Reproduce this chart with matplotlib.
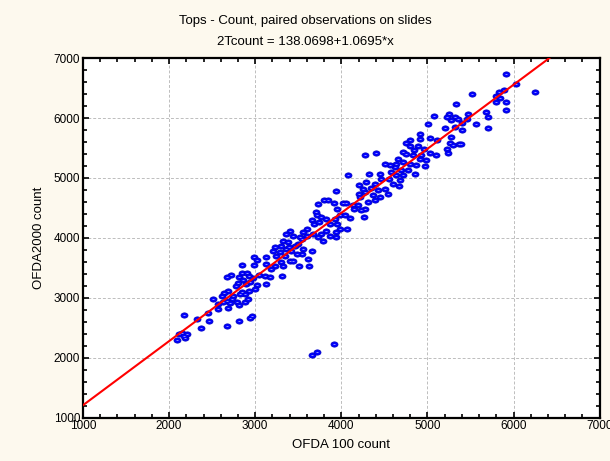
"""Scatter of paired slide counts: OFDA 100 vs OFDA2000, with the fitted line."""

import numpy as np
import matplotlib
matplotlib.use('Agg')
import matplotlib.pyplot as plt
from matplotlib.path import Path
from matplotlib.transforms import Affine2D

TITLE = 'Tops - Count, paired observations on slides'
SUBTITLE = '2Tcount = 138.0698+1.0695*x'
X_LABEL = 'OFDA 100 count'
Y_LABEL = 'OFDA2000 count'

# regression coefficients printed in the chart header
INTERCEPT = 138.0698
SLOPE = 1.0695

# OFDA 100 count (x) and OFDA2000 count (y)
ofda100 = [
    2989, 3016, 2849, 2989, 2714, 2668, 2842, 2900, 2927, 2811,
    2861, 2977, 3039, 3016, 2803, 2776, 2892, 2938, 2996, 2931,
    2842, 2880, 2687, 2641, 2617, 2745, 2726, 2668, 2629, 2791,
    2706, 2880, 2919, 2822, 2505, 2571, 2563, 2687, 2811, 2455,
    2176, 2319, 2463, 2366, 2668, 2807, 2938, 2962, 2145, 2118,
    2203, 2184, 2087, 2172,
    # middle of the cloud
    4079, 4203, 4203, 3944, 3731, 3801, 3847, 3913, 4021, 4060,
    4137, 4195, 3712, 3719, 3770, 3828, 3654, 3681, 3743, 3866,
    3951, 3982, 4040, 4106, 4145, 3924, 3955, 3982, 3944, 4067,
    3944, 3828, 3770, 3731, 3866, 3789, 3673, 3596, 3557, 3603,
    3518, 3549, 3499, 3441, 3402, 3363, 3325, 3383, 3460, 3557,
    3654, 3615, 3626, 3549, 3480, 3421, 3363, 3294, 3228, 3209,
    3247, 3344, 3402, 3294, 3325, 3228, 3131, 3131, 3189, 3112,
    3170, 3131, 3317, 3510, 3441, 3286, 3394,
    # upper part
    5337, 5252, 5317, 5356, 5279, 5228, 5078, 5008, 5201, 5317,
    5279, 5259, 5298, 5228, 5240, 5368, 5116, 5035, 5097, 4919,
    4919, 4795, 4749, 4795, 4892, 4958, 4842, 4718, 4757, 4834,
    4931, 5027, 4989, 4969, 4911, 4660, 4640, 4718, 4795, 4873,
    4853, 4776, 4699, 4621, 4563, 4505, 4582, 4640, 4718, 4679,
    4602, 4671, 4555, 4447, 4466, 4323, 4292, 4273, 4408, 4389,
    4350, 4428, 4505, 4544, 4447, 4370, 4273, 4254, 4312, 4273,
    4234, 4261, 4389, 4223,
    # top end
    5917, 6033, 6245, 5889, 5831, 5793, 5839, 5917, 5800, 5917,
    5522, 5684, 5704, 5472, 5460, 5561, 5704, 5406, 5406, 5387,
    # low outliers
    3660, 3715, 3912,
]
ofda2000 = [
    3676, 3637, 3553, 3553, 3386, 3347, 3408, 3414, 3369, 3347,
    3302, 3330, 3380, 3213, 3246, 3201, 3229, 3257, 3145, 3117,
    3101, 3062, 3117, 3078, 3034, 3034, 2978, 2950, 2922, 2922,
    2905, 2922, 2978, 3062, 2978, 2894, 2810, 2838, 2877, 2743,
    2710, 2643, 2615, 2503, 2531, 2609, 2671, 2699, 2419, 2391,
    2391, 2335, 2296, 2363,
    5055, 4877, 4737, 4776, 4569, 4625, 4625, 4586, 4586, 4586,
    4541, 4553, 4430, 4374, 4346, 4318, 4290, 4234, 4262, 4234,
    4486, 4374, 4374, 4329, 4486, 4318, 4234, 4150, 4095, 4150,
    4011, 4123, 4067, 4011, 4039, 3955, 4067, 4150, 4095, 4039,
    4011, 3983, 3899, 4039, 4123, 4067, 3955, 3927, 3871, 3815,
    3787, 3648, 3536, 3731, 3731, 3787, 3815, 3871, 3843, 3787,
    3703, 3703, 3620, 3592, 3536, 3536, 3676, 3564, 3480, 3368,
    3340, 3229, 3357, 3536, 3620, 3759, 3843,
    6234, 6067, 6011, 5977, 5966, 6022, 6033, 5893, 5838, 5854,
    5676, 5586, 5547, 5491, 5419, 5564, 5631, 5659, 5391, 5731,
    5642, 5631, 5586, 5530, 5530, 5491, 5463, 5435, 5396, 5380,
    5380, 5419, 5296, 5195, 5324, 5324, 5229, 5268, 5240, 5212,
    5072, 5128, 5139, 5184, 5212, 5229, 5100, 5044, 5044, 4960,
    4905, 4860, 4988, 5072, 4988, 5072, 4932, 5379, 5419, 4905,
    4838, 4793, 4821, 4737, 4681, 4709, 4765, 4821, 4597, 4486,
    4458, 4346, 4625, 4681,
    6732, 6564, 6430, 6469, 6442, 6369, 6330, 6263, 6274, 6134,
    6397, 6106, 6022, 6067, 5983, 5900, 5827, 5911, 5799, 5564,
    2039, 2101, 2235,
]

BG = '#FDF9EE'


def plot_scatter():
    plt.rcParams['font.family'] = ['Liberation Sans', 'DejaVu Sans']
    fig = plt.figure(figsize=(6.1, 4.61), dpi=100, facecolor=BG)
    ax = fig.add_axes([0.136, 0.094, 0.847, 0.780])
    ax.set_facecolor('white')

    # slightly flattened circles, like the original program draws them
    blob = Path.unit_circle().transformed(Affine2D().scale(1.0, 0.75))
    ax.plot(ofda100, ofda2000, linestyle='none', marker=blob, ms=5.0,
            mfc='#0000FF', mec='#0000C8', mew=0.6, zorder=3)
    ax.plot(ofda100, ofda2000, linestyle='none', marker='_', ms=1.6,
            mec='#9090FF', mew=0.7, zorder=3.5)

    xs = np.array([1000, 7000])
    ax.plot(xs, INTERCEPT + SLOPE * xs, color='#FF0000', lw=1.5, zorder=4)

    ax.set_xlim(1000, 7000)
    ax.set_ylim(1000, 7000)
    ax.set_xticks(range(1000, 7001, 1000))
    ax.set_yticks(range(1000, 7001, 1000))
    ax.set_xticks(range(1000, 7001, 200), minor=True)
    ax.set_yticks(range(1000, 7001, 200), minor=True)
    ax.tick_params(which='both', direction='in', top=True, right=True,
                   colors='black', width=1.2, labelsize=8.5, pad=2)
    ax.tick_params(which='major', length=4.5)
    ax.tick_params(which='minor', length=3)
    ax.grid(True, which='major', color='#BDBDBD', linestyle=(0, (3, 2)), lw=0.7)
    ax.set_axisbelow(True)
    for side in ax.spines.values():
        side.set_linewidth(1.6)

    ax.set_xlabel(X_LABEL, fontsize=9.5, labelpad=5)
    ax.set_ylabel(Y_LABEL, fontsize=9.5, labelpad=6)
    fig.text(0.5, 0.955, TITLE, ha='center', va='center', fontsize=9.5)
    fig.text(0.5, 0.908, SUBTITLE, ha='center', va='center', fontsize=9.5)

    fig.savefig('out.png', dpi=100, facecolor=BG)


if __name__ == '__main__':
    plot_scatter()
